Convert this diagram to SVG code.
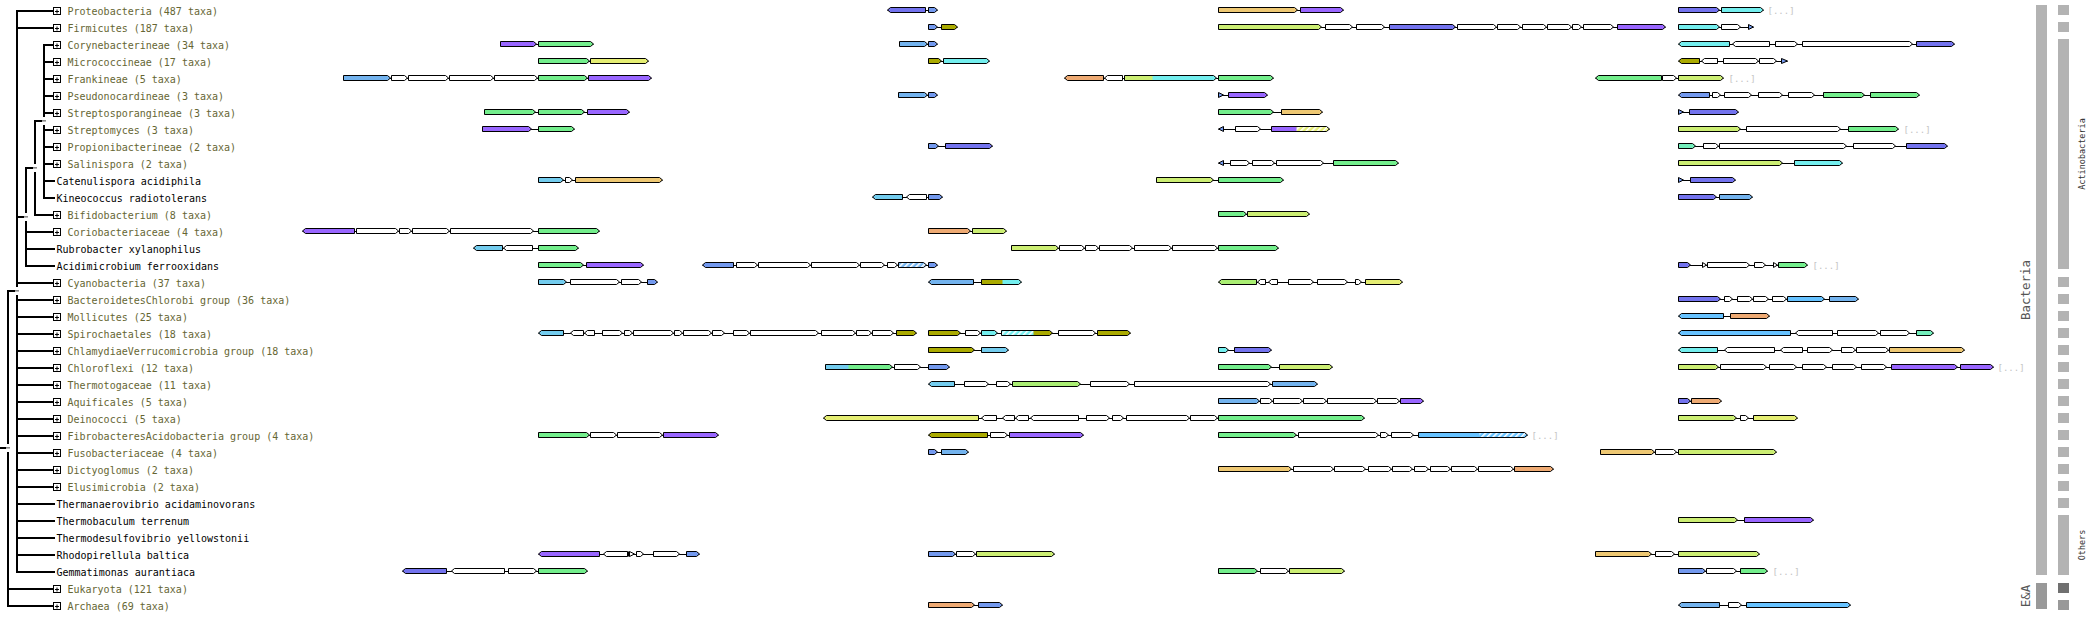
<svg xmlns="http://www.w3.org/2000/svg" xmlns:xlink="http://www.w3.org/1999/xlink" width="2088" height="624" viewBox="0 0 2088 624">
<defs>
<style>
text{font-family:"DejaVu Sans Mono","Liberation Mono",monospace}
.t{font-size:10px;fill:#666633}
.k{font-size:10px;fill:#000}
.d{font-size:9px;fill:#c4c4c4}
.gn path{stroke:#000;stroke-width:1}
.ln{fill:none}
.tree{fill:none;stroke:#000;stroke-width:2}
.w{fill:#fff}.pu{fill:#9966ff}.sb{fill:#7373ee}.bl{fill:#7399ee}.lb{fill:#73b3ee}.cb{fill:#73ccee}.cy{fill:#73eeee}.gr{fill:#73ee8c}.yg{fill:#ccee73}.ye{fill:#e5ee73}.lg{fill:#aaee73}.oy{fill:#eec873}.or{fill:#eeaa73}.ol{fill:#aaaa00}.te{fill:#73eebb}.db{fill:#66c2ff}
.bar{fill:#b3b3b3}
.lab{font-size:12.5px;fill:#555}
.sl{font-size:8.5px;fill:#333}
</style>
<pattern id="hlb" width="4" height="4" patternUnits="userSpaceOnUse" patternTransform="rotate(45)"><rect width="4" height="4" fill="#73b3ee"/><rect width="1.6" height="4" fill="#fff"/></pattern>
<pattern id="hcy" width="4" height="4" patternUnits="userSpaceOnUse" patternTransform="rotate(45)"><rect width="4" height="4" fill="#73eeee"/><rect width="1.6" height="4" fill="#fff"/></pattern>
<pattern id="hye" width="4" height="4" patternUnits="userSpaceOnUse" patternTransform="rotate(45)"><rect width="4" height="4" fill="#e5ee73"/><rect width="1.6" height="4" fill="#fff"/></pattern>
<pattern id="hdb" width="4" height="4" patternUnits="userSpaceOnUse" patternTransform="rotate(45)"><rect width="4" height="4" fill="#66c2ff"/><rect width="1.6" height="4" fill="#fff"/></pattern>
<g id="bx"><rect x="53" y="-2.5" width="7" height="7" fill="#fff" stroke="#000" stroke-width="1"/><path d="M54.5,1.5H58.5M56.5,-0.5V3.5" stroke="#000" stroke-width="1"/></g>
</defs>
<rect width="2088" height="624" fill="#fff"/>

<g id="tree-connectors">
<path class="tree" d="M8,290V607M17,10V573M26,167V267M35,120V216M44,44V199"/>
<path class="tree" d="M16,11H53M16,28H53M16,283H53M16,300H53M16,317H53M16,334H53M16,351H53M16,368H53M16,385H53M16,402H53M16,419H53M16,436H53M16,453H53M16,470H53M16,487H53M16,504H55M16,521H55M16,538H55M16,555H55M16,572H55M7,589H53M7,606H53M43,45H53M43,62H53M43,79H53M43,96H53M43,113H53M43,130H53M43,147H53M43,164H53M43,181H55M43,198H55M34,215H53M25,232H53M25,249H55M25,266H55M0,448H6M7,291H15M16,217H24M25,168H33M34,121H42"/>
<g fill="#fff"><rect x="6.5" y="444" width="3" height="8"/><rect x="15.5" y="287" width="3" height="8"/><rect x="24.5" y="213" width="3" height="8"/><rect x="33.5" y="164" width="3" height="8"/><rect x="42.5" y="117" width="3" height="8"/></g>
<g fill="#8c8c8c"><rect x="6" y="447" width="4" height="1.6"/><rect x="15" y="290" width="4" height="1.6"/><rect x="24" y="216" width="4" height="1.6"/><rect x="33" y="167" width="4" height="1.6"/><rect x="42" y="120" width="4" height="1.6"/></g>
</g>

<g id="r0" class="gn" transform="translate(.5,10)"><use xlink:href="#bx"/><text class="t" x="67" y="5">Proteobacteria (487 taxa)</text>
<path class="ln" d="M887,.5H937M1218,.5H1343M1678,.5H1763"/>
<path class="sb" d="M887,0L890,-2.5H925V2.5H890ZM1678,-2.5H1716L1719,0L1716,2.5H1678Z"/>
<path class="bl" d="M928,-2.5H934L937,0L934,2.5H928Z"/>
<path class="oy" d="M1218,-2.5H1294L1297,0L1294,2.5H1218Z"/>
<path class="pu" d="M1300,-2.5H1340L1343,0L1340,2.5H1300Z"/>
<path class="cy" d="M1721,-2.5H1760L1763,0L1760,2.5H1721Z"/>
<text class="d" x="1767" y="3.5">[...]</text></g>

<g id="r1" class="gn" transform="translate(.5,27)"><use xlink:href="#bx"/><text class="t" x="67" y="5">Firmicutes (187 taxa)</text>
<path class="ln" d="M928,.5H957M1218,.5H1665M1678,.5H1753"/>
<path class="bl" d="M928,-2.5H934L937,0L934,2.5H928ZM1748,-2.5L1753,0L1748,2.5Z"/>
<path class="ol" d="M941,-2.5H954L957,0L954,2.5H941Z"/>
<path class="yg" d="M1218,-2.5H1318L1321,0L1318,2.5H1218Z"/>
<path class="w" d="M1325,-2.5H1349L1352,0L1349,2.5H1325ZM1356,-2.5H1381L1384,0L1381,2.5H1356ZM1457,-2.5H1493L1496,0L1493,2.5H1457ZM1497,-2.5H1517L1520,0L1517,2.5H1497ZM1522,-2.5H1543L1546,0L1543,2.5H1522ZM1547,-2.5H1568L1571,0L1568,2.5H1547ZM1572,-2.5H1578L1581,0L1578,2.5H1572ZM1583,-2.5H1610L1613,0L1610,2.5H1583ZM1721,-2.5H1737L1740,0L1737,2.5H1721Z"/>
<path class="sb" d="M1389,-2.5H1452L1455,0L1452,2.5H1389Z"/>
<path class="pu" d="M1617,-2.5H1662L1665,0L1662,2.5H1617Z"/>
<path class="cy" d="M1678,-2.5H1716L1719,0L1716,2.5H1678Z"/></g>

<g id="r2" class="gn" transform="translate(.5,44)"><use xlink:href="#bx"/><text class="t" x="67" y="5">Corynebacterineae (34 taxa)</text>
<path class="ln" d="M500,.5H593M899,.5H937M1678,.5H1954"/>
<path class="pu" d="M500,-2.5H533L536,0L533,2.5H500Z"/>
<path class="gr" d="M538,-2.5H590L593,0L590,2.5H538Z"/>
<path class="lb" d="M899,-2.5H924L927,0L924,2.5H899Z"/>
<path class="bl" d="M928,-2.5H934L937,0L934,2.5H928Z"/>
<path class="cy" d="M1678,0L1681,-2.5H1729V2.5H1681Z"/>
<path class="w" d="M1732,0L1735,-2.5H1769V2.5H1735ZM1775,-2.5H1794L1797,0L1794,2.5H1775ZM1802,-2.5H1909L1912,0L1909,2.5H1802Z"/>
<path class="sb" d="M1916,-2.5H1951L1954,0L1951,2.5H1916Z"/></g>

<g id="r3" class="gn" transform="translate(.5,61)"><use xlink:href="#bx"/><text class="t" x="67" y="5">Micrococcineae (17 taxa)</text>
<path class="ln" d="M538,.5H648M928,.5H989M1678,.5H1787"/>
<path class="gr" d="M538,-2.5H586L589,0L586,2.5H538Z"/>
<path class="ye" d="M590,-2.5H645L648,0L645,2.5H590Z"/>
<path class="ol" d="M928,-2.5H938L941,0L938,2.5H928ZM1678,0L1681,-2.5H1699V2.5H1681Z"/>
<path class="cy" d="M943,-2.5H986L989,0L986,2.5H943Z"/>
<path class="w" d="M1701,0L1704,-2.5H1717V2.5H1704ZM1723,-2.5H1755L1758,0L1755,2.5H1723ZM1759,-2.5H1773L1776,0L1773,2.5H1759Z"/>
<path class="bl" d="M1781,-2.5L1787,0L1781,2.5Z"/></g>

<g id="r4" class="gn" transform="translate(.5,78)"><use xlink:href="#bx"/><text class="t" x="67" y="5">Frankineae (5 taxa)</text>
<path class="ln" d="M343,.5H651M1064,.5H1273M1595,.5H1723"/>
<path class="lb" d="M343,-2.5H387L390,0L387,2.5H343Z"/>
<path class="w" d="M391,-2.5H404L407,0L404,2.5H391ZM408,-2.5H445L448,0L445,2.5H408ZM449,-2.5H490L493,0L490,2.5H449ZM494,-2.5H534L537,0L534,2.5H494ZM1104,0L1107,-2.5H1122V2.5H1107ZM1662,-2.5H1673L1676,0L1673,2.5H1662Z"/>
<path class="gr" d="M538,-2.5H584L587,0L584,2.5H538ZM1218,-2.5H1270L1273,0L1270,2.5H1218ZM1595,0L1598,-2.5H1661V2.5H1598Z"/>
<path class="pu" d="M588,-2.5H648L651,0L648,2.5H588Z"/>
<path class="or" d="M1064,0L1067,-2.5H1103V2.5H1067Z"/>
<path class="cy" d="M1124,-2.5H1213L1216,0L1213,2.5H1124Z"/><rect class="yg" x="1124.5" y="-2" width="27.5" height="4"/>
<path class="yg" d="M1678,-2.5H1720L1723,0L1720,2.5H1678Z"/>
<text class="d" x="1728" y="3.5">[...]</text></g>

<g id="r5" class="gn" transform="translate(.5,95)"><use xlink:href="#bx"/><text class="t" x="67" y="5">Pseudonocardineae (3 taxa)</text>
<path class="ln" d="M898,.5H937M1218,.5H1267M1678,.5H1919"/>
<path class="lb" d="M898,-2.5H924L927,0L924,2.5H898Z"/>
<path class="bl" d="M928,-2.5H934L937,0L934,2.5H928ZM1218,-2.5L1223,0L1218,2.5ZM1678,0L1681,-2.5H1709V2.5H1681Z"/>
<path class="pu" d="M1228,-2.5H1264L1267,0L1264,2.5H1228Z"/>
<path class="w" d="M1712,-2.5H1717L1720,0L1717,2.5H1712ZM1724,-2.5H1748L1751,0L1748,2.5H1724ZM1758,-2.5H1779L1782,0L1779,2.5H1758ZM1788,-2.5H1811L1814,0L1811,2.5H1788Z"/>
<path class="gr" d="M1823,-2.5H1861L1864,0L1861,2.5H1823ZM1870,-2.5H1916L1919,0L1916,2.5H1870Z"/></g>

<g id="r6" class="gn" transform="translate(.5,112)"><use xlink:href="#bx"/><text class="t" x="67" y="5">Streptosporangineae (3 taxa)</text>
<path class="ln" d="M484,.5H629M1218,.5H1322M1678,.5H1738"/>
<path class="gr" d="M484,-2.5H532L535,0L532,2.5H484ZM538,-2.5H581L584,0L581,2.5H538ZM1218,-2.5H1270L1273,0L1270,2.5H1218Z"/>
<path class="pu" d="M587,-2.5H626L629,0L626,2.5H587Z"/>
<path class="oy" d="M1281,-2.5H1319L1322,0L1319,2.5H1281Z"/>
<path class="bl" d="M1678,-2.5L1683,0L1678,2.5Z"/>
<path class="sb" d="M1689,-2.5H1735L1738,0L1735,2.5H1689Z"/></g>

<g id="r7" class="gn" transform="translate(.5,129)"><use xlink:href="#bx"/><text class="t" x="67" y="5">Streptomyces (3 taxa)</text>
<path class="ln" d="M482,.5H574M1218,.5H1329M1678,.5H1898"/>
<path class="pu" d="M482,-2.5H528L531,0L528,2.5H482Z"/>
<path class="gr" d="M538,-2.5H571L574,0L571,2.5H538ZM1848,-2.5H1895L1898,0L1895,2.5H1848Z"/>
<path class="bl" d="M1218,0L1223,-2.5V2.5Z"/>
<path class="w" d="M1235,-2.5H1257L1260,0L1257,2.5H1235ZM1746,-2.5H1837L1840,0L1837,2.5H1746Z"/>
<path fill="url(#hye)" d="M1271,-2.5H1326L1329,0L1326,2.5H1271Z"/><rect class="pu" x="1271.5" y="-2" width="24.5" height="4"/>
<path class="yg" d="M1678,-2.5H1737L1740,0L1737,2.5H1678Z"/>
<text class="d" x="1903" y="3.5">[...]</text></g>

<g id="r8" class="gn" transform="translate(.5,146)"><use xlink:href="#bx"/><text class="t" x="67" y="5">Propionibacterineae (2 taxa)</text>
<path class="ln" d="M928,.5H992M1678,.5H1947"/>
<path class="bl" d="M928,-2.5H935L938,0L935,2.5H928Z"/>
<path class="sb" d="M945,-2.5H989L992,0L989,2.5H945ZM1906,-2.5H1944L1947,0L1944,2.5H1906Z"/>
<path class="te" d="M1678,-2.5H1692L1695,0L1692,2.5H1678Z"/>
<path class="w" d="M1703,-2.5H1715L1718,0L1715,2.5H1703ZM1719,-2.5H1843L1846,0L1843,2.5H1719ZM1853,-2.5H1892L1895,0L1892,2.5H1853Z"/></g>

<g id="r9" class="gn" transform="translate(.5,163)"><use xlink:href="#bx"/><text class="t" x="67" y="5">Salinispora (2 taxa)</text>
<path class="ln" d="M1218,.5H1398M1678,.5H1842"/>
<path class="bl" d="M1218,0L1223,-2.5V2.5Z"/>
<path class="w" d="M1230,-2.5H1246L1249,0L1246,2.5H1230ZM1252,-2.5H1271L1274,0L1271,2.5H1252ZM1276,-2.5H1320L1323,0L1320,2.5H1276Z"/>
<path class="gr" d="M1333,-2.5H1395L1398,0L1395,2.5H1333Z"/>
<path class="yg" d="M1678,-2.5H1779L1782,0L1779,2.5H1678Z"/>
<path class="cy" d="M1794,-2.5H1839L1842,0L1839,2.5H1794Z"/></g>

<g id="r10" class="gn" transform="translate(.5,180)"><text class="k" x="56" y="5">Catenulispora acidiphila</text>
<path class="ln" d="M538,.5H662M1156,.5H1283M1678,.5H1735"/>
<path class="cb" d="M538,-2.5H560L563,0L560,2.5H538Z"/>
<path class="w" d="M565,-2.5H569L572,0L569,2.5H565Z"/>
<path class="oy" d="M575,-2.5H659L662,0L659,2.5H575Z"/>
<path class="yg" d="M1156,-2.5H1210L1213,0L1210,2.5H1156Z"/>
<path class="gr" d="M1218,-2.5H1280L1283,0L1280,2.5H1218Z"/>
<path class="bl" d="M1678,-2.5L1683,0L1678,2.5Z"/>
<path class="sb" d="M1690,-2.5H1732L1735,0L1732,2.5H1690Z"/></g>

<g id="r11" class="gn" transform="translate(.5,197)"><text class="k" x="56" y="5">Kineococcus radiotolerans</text>
<path class="ln" d="M872,.5H942M1678,.5H1752"/>
<path class="cb" d="M872,0L875,-2.5H902V2.5H875Z"/>
<path class="w" d="M906,0L909,-2.5H926V2.5H909Z"/>
<path class="bl" d="M928,-2.5H939L942,0L939,2.5H928Z"/>
<path class="sb" d="M1678,-2.5H1713L1716,0L1713,2.5H1678Z"/>
<path class="lb" d="M1719,-2.5H1749L1752,0L1749,2.5H1719Z"/></g>

<g id="r12" class="gn" transform="translate(.5,214)"><use xlink:href="#bx"/><text class="t" x="67" y="5">Bifidobacterium (8 taxa)</text>
<path class="ln" d="M1218,.5H1309"/>
<path class="gr" d="M1218,-2.5H1243L1246,0L1243,2.5H1218Z"/>
<path class="yg" d="M1247,-2.5H1306L1309,0L1306,2.5H1247Z"/></g>

<g id="r13" class="gn" transform="translate(.5,231)"><use xlink:href="#bx"/><text class="t" x="67" y="5">Coriobacteriaceae (4 taxa)</text>
<path class="ln" d="M302,.5H599M928,.5H1006"/>
<path class="pu" d="M302,0L305,-2.5H354V2.5H305Z"/>
<path class="w" d="M356,-2.5H395L398,0L395,2.5H356ZM399,-2.5H408L411,0L408,2.5H399ZM412,-2.5H446L449,0L446,2.5H412ZM450,-2.5H530L533,0L530,2.5H450Z"/>
<path class="gr" d="M538,-2.5H596L599,0L596,2.5H538Z"/>
<path class="or" d="M928,-2.5H967L970,0L967,2.5H928Z"/>
<path class="yg" d="M972,-2.5H1003L1006,0L1003,2.5H972Z"/></g>

<g id="r14" class="gn" transform="translate(.5,248)"><text class="k" x="56" y="5">Rubrobacter xylanophilus</text>
<path class="ln" d="M473,.5H578M1011,.5H1278"/>
<path class="cb" d="M473,0L476,-2.5H502V2.5H476Z"/>
<path class="w" d="M503,0L506,-2.5H532V2.5H506ZM1059,-2.5H1081L1084,0L1081,2.5H1059ZM1085,-2.5H1095L1098,0L1095,2.5H1085ZM1099,-2.5H1129L1132,0L1129,2.5H1099ZM1134,-2.5H1168L1171,0L1168,2.5H1134ZM1172,-2.5H1214L1217,0L1214,2.5H1172Z"/>
<path class="gr" d="M538,-2.5H575L578,0L575,2.5H538ZM1218,-2.5H1275L1278,0L1275,2.5H1218Z"/>
<path class="yg" d="M1011,-2.5H1055L1058,0L1055,2.5H1011Z"/></g>

<g id="r15" class="gn" transform="translate(.5,265)"><text class="k" x="56" y="5">Acidimicrobium ferrooxidans</text>
<path class="ln" d="M538,.5H643M702,.5H937M1678,.5H1807"/>
<path class="gr" d="M538,-2.5H580L583,0L580,2.5H538ZM1778,-2.5H1804L1807,0L1804,2.5H1778Z"/>
<path class="pu" d="M586,-2.5H640L643,0L640,2.5H586Z"/>
<path class="bl" d="M702,0L705,-2.5H733V2.5H705ZM928,-2.5H934L937,0L934,2.5H928Z"/>
<path class="w" d="M736,-2.5H754L757,0L754,2.5H736ZM758,-2.5H807L810,0L807,2.5H758ZM811,-2.5H856L859,0L856,2.5H811ZM860,-2.5H881L884,0L881,2.5H860ZM887,-2.5H894L897,0L894,2.5H887ZM1702,-2.5L1706,0L1702,2.5ZM1707,-2.5H1746L1749,0L1746,2.5H1707ZM1754,-2.5H1762L1765,0L1762,2.5H1754ZM1773,-2.5L1777,0L1773,2.5Z"/>
<path fill="url(#hlb)" d="M898,-2.5H923L926,0L923,2.5H898Z"/>
<path class="sb" d="M1678,-2.5H1687L1690,0L1687,2.5H1678Z"/>
<text class="d" x="1812" y="3.5">[...]</text></g>

<g id="r16" class="gn" transform="translate(.5,282)"><use xlink:href="#bx"/><text class="t" x="67" y="5">Cyanobacteria (37 taxa)</text>
<path class="ln" d="M538,.5H657M928,.5H1021M1218,.5H1402"/>
<path class="cb" d="M538,-2.5H563L566,0L563,2.5H538Z"/>
<path class="w" d="M570,-2.5H616L619,0L616,2.5H570ZM621,-2.5H638L641,0L638,2.5H621ZM1257,0L1260,-2.5H1265V2.5H1260ZM1268,0L1271,-2.5H1277V2.5H1271ZM1288,-2.5H1310L1313,0L1310,2.5H1288ZM1317,-2.5H1344L1347,0L1344,2.5H1317ZM1355,-2.5H1358L1361,0L1358,2.5H1355Z"/>
<path class="bl" d="M647,-2.5H654L657,0L654,2.5H647Z"/>
<path class="lb" d="M928,0L931,-2.5H973V2.5H931Z"/>
<path class="cy" d="M981,-2.5H1018L1021,0L1018,2.5H981Z"/><rect class="ol" x="981.5" y="-2" width="20.5" height="4"/>
<path class="lg" d="M1218,0L1221,-2.5H1256V2.5H1221Z"/>
<path class="ye" d="M1365,-2.5H1399L1402,0L1399,2.5H1365Z"/></g>

<g id="r17" class="gn" transform="translate(.5,299)"><use xlink:href="#bx"/><text class="t" x="67" y="5">BacteroidetesChlorobi group (36 taxa)</text>
<path class="ln" d="M1678,.5H1858"/>
<path class="sb" d="M1678,-2.5H1717L1720,0L1717,2.5H1678Z"/>
<path class="w" d="M1724,-2.5H1729L1732,0L1729,2.5H1724ZM1737,-2.5H1749L1752,0L1749,2.5H1737ZM1753,-2.5H1765L1768,0L1765,2.5H1753ZM1772,-2.5H1783L1786,0L1783,2.5H1772Z"/>
<path class="db" d="M1787,-2.5H1821L1824,0L1821,2.5H1787Z"/>
<path class="lb" d="M1829,-2.5H1855L1858,0L1855,2.5H1829Z"/></g>

<g id="r18" class="gn" transform="translate(.5,316)"><use xlink:href="#bx"/><text class="t" x="67" y="5">Mollicutes (25 taxa)</text>
<path class="ln" d="M1678,.5H1769"/>
<path class="db" d="M1678,0L1681,-2.5H1723V2.5H1681Z"/>
<path class="or" d="M1730,-2.5H1766L1769,0L1766,2.5H1730Z"/></g>

<g id="r19" class="gn" transform="translate(.5,333)"><use xlink:href="#bx"/><text class="t" x="67" y="5">Spirochaetales (18 taxa)</text>
<path class="ln" d="M538,.5H916M928,.5H1130M1678,.5H1933"/>
<path class="cb" d="M538,0L541,-2.5H563V2.5H541Z"/>
<path class="w" d="M570,0L573,-2.5H583V2.5H573ZM584,0L587,-2.5H594V2.5H587ZM602,-2.5H619L622,0L619,2.5H602ZM624,-2.5H629L632,0L629,2.5H624ZM633,-2.5H670L673,0L670,2.5H633ZM674,-2.5H679L682,0L679,2.5H674ZM683,-2.5H708L711,0L708,2.5H683ZM712,-2.5H721L724,0L721,2.5H712ZM733,-2.5H746L749,0L746,2.5H733ZM750,-2.5H815L818,0L815,2.5H750ZM821,-2.5H852L855,0L852,2.5H821ZM856,-2.5H868L871,0L868,2.5H856ZM872,-2.5H890L893,0L890,2.5H872ZM965,-2.5H977L980,0L977,2.5H965ZM1058,-2.5H1092L1095,0L1092,2.5H1058ZM1795,0L1798,-2.5H1832V2.5H1798ZM1837,-2.5H1875L1878,0L1875,2.5H1837ZM1880,-2.5H1906L1909,0L1906,2.5H1880Z"/>
<path class="ol" d="M896,-2.5H913L916,0L913,2.5H896ZM928,-2.5H957L960,0L957,2.5H928ZM1097,-2.5H1127L1130,0L1127,2.5H1097ZM1001,-2.5H1049L1052,0L1049,2.5H1001Z"/><rect fill="url(#hcy)" x="1001.5" y="-2" width="31.5" height="4"/>
<path class="cy" d="M981,-2.5H994L997,0L994,2.5H981Z"/>
<path class="db" d="M1678,0L1681,-2.5H1790V2.5H1681Z"/>
<path class="te" d="M1916,-2.5H1930L1933,0L1930,2.5H1916Z"/></g>

<g id="r20" class="gn" transform="translate(.5,350)"><use xlink:href="#bx"/><text class="t" x="67" y="5">ChlamydiaeVerrucomicrobia group (18 taxa)</text>
<path class="ln" d="M928,.5H1008M1218,.5H1271M1678,.5H1964"/>
<path class="ol" d="M928,-2.5H971L974,0L971,2.5H928Z"/>
<path class="cb" d="M981,-2.5H1005L1008,0L1005,2.5H981Z"/>
<path class="cy" d="M1218,-2.5H1225L1228,0L1225,2.5H1218ZM1678,0L1681,-2.5H1717V2.5H1681Z"/>
<path class="sb" d="M1234,-2.5H1268L1271,0L1268,2.5H1234Z"/>
<path class="w" d="M1724,0L1727,-2.5H1774V2.5H1727ZM1780,0L1783,-2.5H1802V2.5H1783ZM1807,-2.5H1829L1832,0L1829,2.5H1807ZM1841,-2.5H1852L1855,0L1852,2.5H1841ZM1856,-2.5H1885L1888,0L1885,2.5H1856Z"/>
<path class="oy" d="M1889,-2.5H1961L1964,0L1961,2.5H1889Z"/></g>

<g id="r21" class="gn" transform="translate(.5,367)"><use xlink:href="#bx"/><text class="t" x="67" y="5">Chloroflexi (12 taxa)</text>
<path class="ln" d="M825,.5H949M1218,.5H1332M1678,.5H1993"/>
<path class="gr" d="M825,-2.5H889L892,0L889,2.5H825ZM1218,-2.5H1268L1271,0L1268,2.5H1218Z"/><rect class="cb" x="825.5" y="-2" width="22.5" height="4"/>
<path class="w" d="M894,-2.5H917L920,0L917,2.5H894ZM1720,-2.5H1763L1766,0L1763,2.5H1720ZM1769,-2.5H1793L1796,0L1793,2.5H1769ZM1802,-2.5H1823L1826,0L1823,2.5H1802ZM1832,-2.5H1853L1856,0L1853,2.5H1832ZM1861,-2.5H1883L1886,0L1883,2.5H1861Z"/>
<path class="bl" d="M928,-2.5H946L949,0L946,2.5H928Z"/>
<path class="yg" d="M1279,-2.5H1329L1332,0L1329,2.5H1279ZM1678,-2.5H1715L1718,0L1715,2.5H1678Z"/>
<path class="pu" d="M1891,-2.5H1954L1957,0L1954,2.5H1891ZM1960,-2.5H1990L1993,0L1990,2.5H1960Z"/>
<text class="d" x="1997" y="3.5">[...]</text></g>

<g id="r22" class="gn" transform="translate(.5,384)"><use xlink:href="#bx"/><text class="t" x="67" y="5">Thermotogaceae (11 taxa)</text>
<path class="ln" d="M928,.5H1317"/>
<path class="cb" d="M928,0L931,-2.5H954V2.5H931Z"/>
<path class="w" d="M964,-2.5H985L988,0L985,2.5H964ZM996,-2.5H1007L1010,0L1007,2.5H996ZM1090,-2.5H1126L1129,0L1126,2.5H1090ZM1134,-2.5H1267L1270,0L1267,2.5H1134Z"/>
<path class="lg" d="M1012,-2.5H1077L1080,0L1077,2.5H1012Z"/>
<path class="lb" d="M1272,-2.5H1314L1317,0L1314,2.5H1272Z"/></g>

<g id="r23" class="gn" transform="translate(.5,401)"><use xlink:href="#bx"/><text class="t" x="67" y="5">Aquificales (5 taxa)</text>
<path class="ln" d="M1218,.5H1423M1678,.5H1721"/>
<path class="lb" d="M1218,-2.5H1256L1259,0L1256,2.5H1218Z"/>
<path class="w" d="M1260,-2.5H1269L1272,0L1269,2.5H1260ZM1273,-2.5H1299L1302,0L1299,2.5H1273ZM1303,-2.5H1323L1326,0L1323,2.5H1303ZM1327,-2.5H1373L1376,0L1373,2.5H1327ZM1377,-2.5H1396L1399,0L1396,2.5H1377Z"/>
<path class="pu" d="M1400,-2.5H1420L1423,0L1420,2.5H1400Z"/>
<path class="sb" d="M1678,-2.5H1687L1690,0L1687,2.5H1678Z"/>
<path class="or" d="M1691,-2.5H1718L1721,0L1718,2.5H1691Z"/></g>

<g id="r24" class="gn" transform="translate(.5,418)"><use xlink:href="#bx"/><text class="t" x="67" y="5">Deinococci (5 taxa)</text>
<path class="ln" d="M823,.5H1364M1678,.5H1797"/>
<path class="ye" d="M823,0L826,-2.5H978V2.5H826ZM1753,-2.5H1794L1797,0L1794,2.5H1753Z"/>
<path class="w" d="M981,0L984,-2.5H996V2.5H984ZM1002,0L1005,-2.5H1014V2.5H1005ZM1015,0L1018,-2.5H1028V2.5H1018ZM1030,0L1033,-2.5H1078V2.5H1033ZM1086,-2.5H1106L1109,0L1106,2.5H1086ZM1112,-2.5H1120L1123,0L1120,2.5H1112ZM1126,-2.5H1186L1189,0L1186,2.5H1126ZM1190,-2.5H1214L1217,0L1214,2.5H1190ZM1740,-2.5H1745L1748,0L1745,2.5H1740Z"/>
<path class="gr" d="M1218,-2.5H1361L1364,0L1361,2.5H1218Z"/>
<path class="yg" d="M1678,-2.5H1733L1736,0L1733,2.5H1678Z"/></g>

<g id="r25" class="gn" transform="translate(.5,435)"><use xlink:href="#bx"/><text class="t" x="67" y="5">FibrobacteresAcidobacteria group (4 taxa)</text>
<path class="ln" d="M538,.5H718M928,.5H1083M1218,.5H1527"/>
<path class="gr" d="M538,-2.5H586L589,0L586,2.5H538ZM1218,-2.5H1293L1296,0L1293,2.5H1218Z"/>
<path class="w" d="M590,-2.5H613L616,0L613,2.5H590ZM617,-2.5H659L662,0L659,2.5H617ZM990,-2.5H1004L1007,0L1004,2.5H990ZM1298,-2.5H1375L1378,0L1375,2.5H1298ZM1380,-2.5H1385L1388,0L1385,2.5H1380ZM1391,-2.5H1410L1413,0L1410,2.5H1391Z"/>
<path class="pu" d="M663,-2.5H715L718,0L715,2.5H663ZM1009,-2.5H1080L1083,0L1080,2.5H1009Z"/>
<path class="ol" d="M928,0L931,-2.5H987V2.5H931Z"/>
<path fill="url(#hdb)" d="M1418,-2.5H1524L1527,0L1524,2.5H1418Z"/><rect class="db" x="1418.5" y="-2" width="60.5" height="4"/>
<text class="d" x="1531" y="3.5">[...]</text></g>

<g id="r26" class="gn" transform="translate(.5,452)"><use xlink:href="#bx"/><text class="t" x="67" y="5">Fusobacteriaceae (4 taxa)</text>
<path class="ln" d="M928,.5H968M1600,.5H1776"/>
<path class="bl" d="M928,-2.5H934L937,0L934,2.5H928Z"/>
<path class="lb" d="M941,-2.5H965L968,0L965,2.5H941Z"/>
<path class="oy" d="M1600,-2.5H1651L1654,0L1651,2.5H1600Z"/>
<path class="w" d="M1655,-2.5H1673L1676,0L1673,2.5H1655Z"/>
<path class="yg" d="M1678,-2.5H1773L1776,0L1773,2.5H1678Z"/></g>

<g id="r27" class="gn" transform="translate(.5,469)"><use xlink:href="#bx"/><text class="t" x="67" y="5">Dictyoglomus (2 taxa)</text>
<path class="ln" d="M1218,.5H1553"/>
<path class="oy" d="M1218,-2.5H1288L1291,0L1288,2.5H1218Z"/>
<path class="w" d="M1293,-2.5H1330L1333,0L1330,2.5H1293ZM1334,-2.5H1362L1365,0L1362,2.5H1334ZM1368,-2.5H1388L1391,0L1388,2.5H1368ZM1392,-2.5H1409L1412,0L1409,2.5H1392ZM1414,-2.5H1425L1428,0L1425,2.5H1414ZM1430,-2.5H1447L1450,0L1447,2.5H1430ZM1451,-2.5H1474L1477,0L1474,2.5H1451ZM1478,-2.5H1510L1513,0L1510,2.5H1478Z"/>
<path class="or" d="M1514,-2.5H1550L1553,0L1550,2.5H1514Z"/></g>

<g id="r28" class="gn" transform="translate(.5,486)"><use xlink:href="#bx"/><text class="t" x="67" y="5">Elusimicrobia (2 taxa)</text></g>

<g id="r29" class="gn" transform="translate(.5,503)"><text class="k" x="56" y="5">Thermanaerovibrio acidaminovorans</text></g>

<g id="r30" class="gn" transform="translate(.5,520)"><text class="k" x="56" y="5">Thermobaculum terrenum</text>
<path class="ln" d="M1678,.5H1813"/>
<path class="yg" d="M1678,-2.5H1734L1737,0L1734,2.5H1678Z"/>
<path class="pu" d="M1744,-2.5H1810L1813,0L1810,2.5H1744Z"/></g>

<g id="r31" class="gn" transform="translate(.5,537)"><text class="k" x="56" y="5">Thermodesulfovibrio yellowstonii</text></g>

<g id="r32" class="gn" transform="translate(.5,554)"><text class="k" x="56" y="5">Rhodopirellula baltica</text>
<path class="ln" d="M538,.5H699M928,.5H1054M1595,.5H1759"/>
<path class="pu" d="M538,0L541,-2.5H599V2.5H541Z"/>
<path class="w" d="M603,0L606,-2.5H627V2.5H606ZM629,-2.5L634,0L629,2.5ZM636,-2.5H640L643,0L640,2.5H636ZM653,-2.5H676L679,0L676,2.5H653ZM956,-2.5H972L975,0L972,2.5H956ZM1655,-2.5H1671L1674,0L1671,2.5H1655Z"/>
<rect x="627" y="-2.5" width="2" height="5" fill="#000"/>
<path class="bl" d="M686,-2.5H696L699,0L696,2.5H686ZM928,-2.5H952L955,0L952,2.5H928Z"/>
<path class="yg" d="M976,-2.5H1051L1054,0L1051,2.5H976ZM1678,-2.5H1756L1759,0L1756,2.5H1678Z"/>
<path class="oy" d="M1595,-2.5H1648L1651,0L1648,2.5H1595Z"/></g>

<g id="r33" class="gn" transform="translate(.5,571)"><text class="k" x="56" y="5">Gemmatimonas aurantiaca</text>
<path class="ln" d="M402,.5H587M1218,.5H1344M1678,.5H1767"/>
<path class="sb" d="M402,0L405,-2.5H446V2.5H405Z"/>
<path class="w" d="M451,0L454,-2.5H504V2.5H454ZM508,-2.5H533L536,0L533,2.5H508ZM1260,-2.5H1285L1288,0L1285,2.5H1260ZM1706,-2.5H1733L1736,0L1733,2.5H1706Z"/>
<path class="gr" d="M538,-2.5H584L587,0L584,2.5H538ZM1218,-2.5H1254L1257,0L1254,2.5H1218ZM1740,-2.5H1764L1767,0L1764,2.5H1740Z"/>
<path class="yg" d="M1289,-2.5H1341L1344,0L1341,2.5H1289Z"/>
<path class="bl" d="M1678,-2.5H1702L1705,0L1702,2.5H1678Z"/>
<text class="d" x="1772" y="3.5">[...]</text></g>

<g id="r34" class="gn" transform="translate(.5,588)"><use xlink:href="#bx"/><text class="t" x="67" y="5">Eukaryota (121 taxa)</text></g>

<g id="r35" class="gn" transform="translate(.5,605)"><use xlink:href="#bx"/><text class="t" x="67" y="5">Archaea (69 taxa)</text>
<path class="ln" d="M928,.5H1002M1678,.5H1850"/>
<path class="or" d="M928,-2.5H971L974,0L971,2.5H928Z"/>
<path class="bl" d="M978,-2.5H999L1002,0L999,2.5H978Z"/>
<path class="lb" d="M1678,0L1681,-2.5H1719V2.5H1681Z"/>
<path class="w" d="M1728,-2.5H1738L1741,0L1738,2.5H1728Z"/>
<path class="db" d="M1746,-2.5H1847L1850,0L1847,2.5H1746Z"/></g>

<g id="groups">
<rect class="bar" x="2036" y="5" width="11" height="570"/>
<rect x="2036" y="583" width="11" height="26" fill="#999"/>
<text class="lab" transform="translate(2030,290) rotate(-90)" text-anchor="middle">Bacteria</text>
<text class="lab" transform="translate(2030,596) rotate(-90)" text-anchor="middle">E&amp;A</text>
<g class="bar">
<rect x="2058" y="5" width="11" height="10"/><rect x="2058" y="22" width="11" height="10"/>
<rect x="2058" y="39" width="11" height="230"/>
<rect x="2058" y="277" width="11" height="10"/><rect x="2058" y="294" width="11" height="10"/><rect x="2058" y="311" width="11" height="10"/><rect x="2058" y="328" width="11" height="10"/><rect x="2058" y="345" width="11" height="10"/><rect x="2058" y="362" width="11" height="10"/><rect x="2058" y="379" width="11" height="10"/><rect x="2058" y="396" width="11" height="10"/><rect x="2058" y="413" width="11" height="10"/><rect x="2058" y="430" width="11" height="10"/><rect x="2058" y="447" width="11" height="10"/><rect x="2058" y="464" width="11" height="10"/><rect x="2058" y="481" width="11" height="10"/><rect x="2058" y="498" width="11" height="10"/>
<rect x="2058" y="515" width="11" height="60"/>
</g>
<rect x="2058" y="583" width="11" height="10" fill="#707070"/>
<rect x="2058" y="600" width="11" height="10" fill="#999"/>
<text class="sl" transform="translate(2085,154) rotate(-90)" text-anchor="middle">Actinobacteria</text>
<text class="sl" transform="translate(2085,545) rotate(-90)" text-anchor="middle">Others</text>
</g>
</svg>
